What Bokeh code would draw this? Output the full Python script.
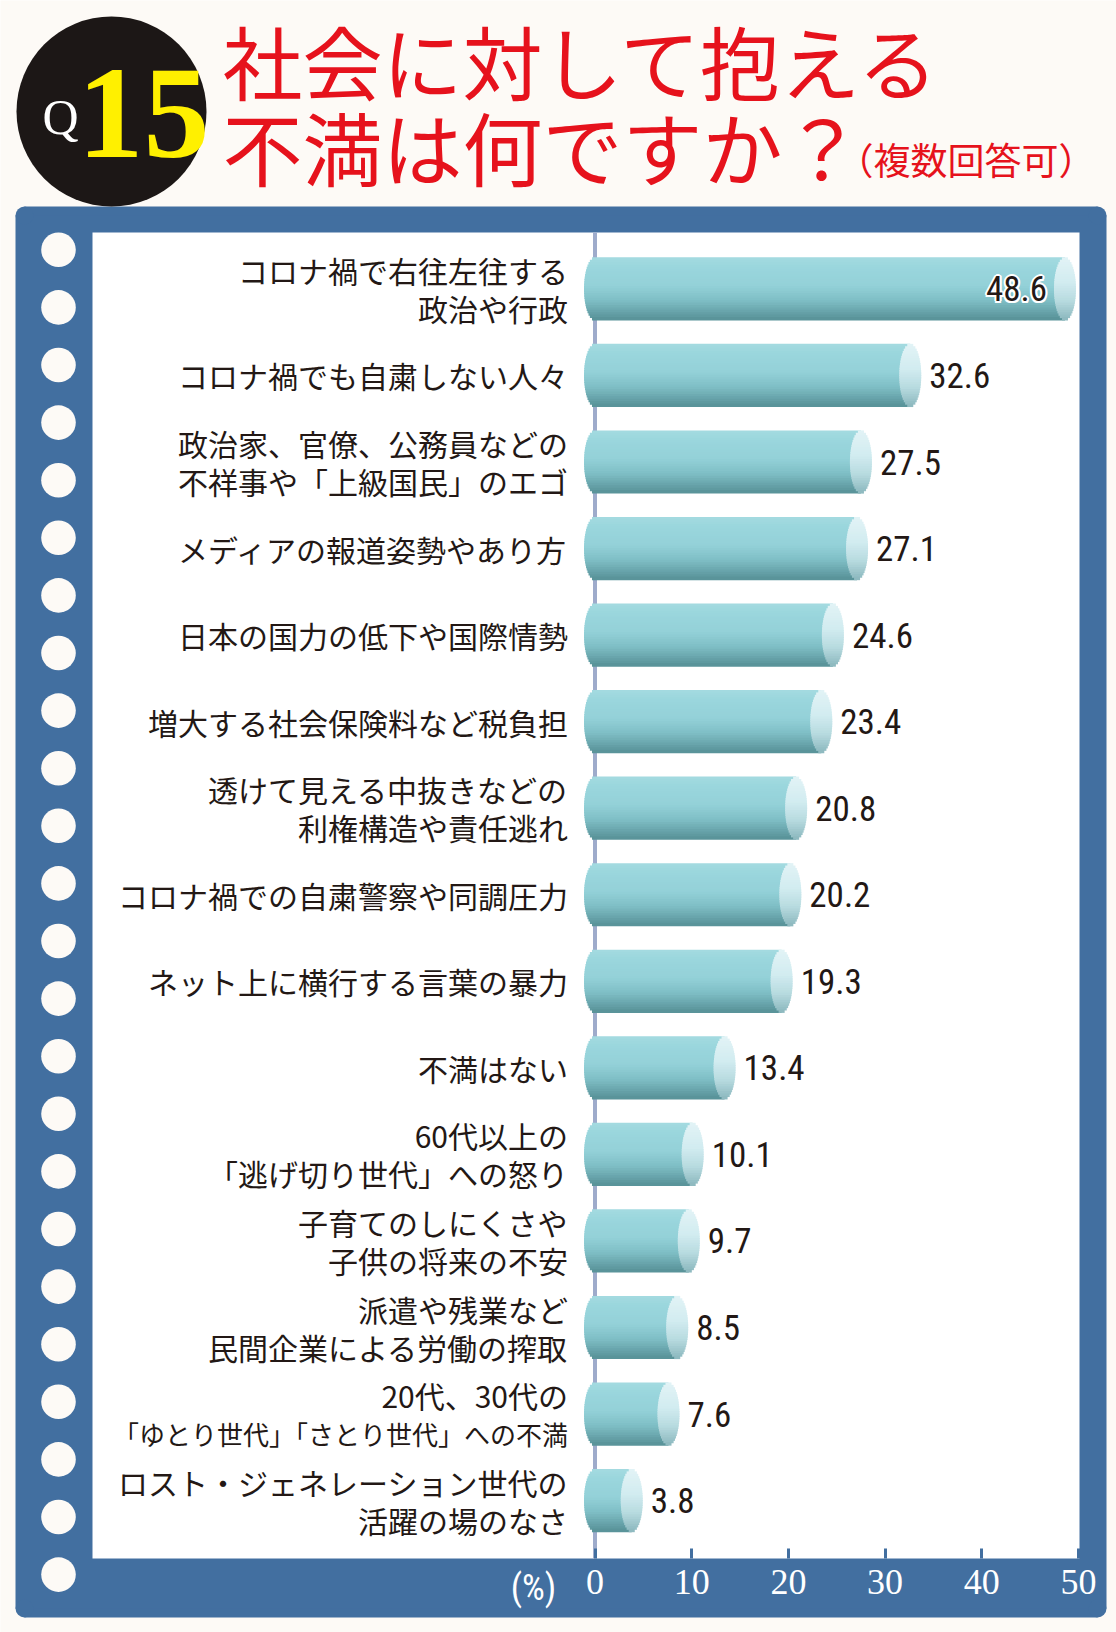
import math
from bokeh.plotting import figure
from bokeh.models import Range1d, FixedTicker, ColumnDataSource
from bokeh.core.properties import value
from bokeh.embed import file_html
from bokeh.resources import INLINE

# ---------------- data ----------------
categories = [
    "コロナ禍で右往左往する\n政治や行政",
    "コロナ禍でも自粛しない人々",
    "政治家、官僚、公務員などの\n不祥事や「上級国民」のエゴ",
    "メディアの報道姿勢やあり方",
    "日本の国力の低下や国際情勢",
    "増大する社会保険料など税負担",
    "透けて見える中抜きなどの\n利権構造や責任逃れ",
    "コロナ禍での自粛警察や同調圧力",
    "ネット上に横行する言葉の暴力",
    "不満はない",
    "60代以上の\n「逃げ切り世代」への怒り",
    "子育てのしにくさや\n子供の将来の不安",
    "派遣や残業など\n民間企業による労働の搾取",
    "20代、30代の\n「ゆとり世代」「さとり世代」への不満",
    "ロスト・ジェネレーション世代の\n活躍の場のなさ",
]
values = [48.6, 32.6, 27.5, 27.1, 24.6, 23.4, 20.8, 20.2, 19.3, 13.4, 10.1, 9.7, 8.5, 7.6, 3.8]
x_ticks = [0, 10, 20, 30, 40, 50]
title_lines = ["社会に対して抱える", "不満は何ですか？"]
title_note = "（複数回答可）"
question_prefix = "Q"
question_number = "15"
unit_label = "(%)"

# ---------------- layout / style ----------------
W, H = 1116, 1632
X0_PX = 594.5          # pixel position of value 0
PX_PER_UNIT = 9.67     # pixels per percentage point
ROW0_PX = 288.4        # pixel centre of first row
ROW_PX = 86.55         # pixels per row

BLUE = "#426fa0"
CREAM = "#fdfaf6"
RED = "#e6121c"
DARK = "#231815"
AXIS_LINE = "#9eabcb"
JP = value("Noto Sans CJK JP")
NARROW = value("'Liberation Sans Narrow', 'Arial Narrow', 'Roboto Condensed', 'Liberation Sans', sans-serif")
SERIF = value("Liberation Serif")

x_start = -X0_PX / PX_PER_UNIT
x_end = (W - X0_PX) / PX_PER_UNIT
y_top = -ROW0_PX / ROW_PX
y_bottom = (H - ROW0_PX) / ROW_PX

p = figure(width=W, height=H,
           x_range=Range1d(x_start, x_end), y_range=Range1d(y_bottom, y_top),
           output_backend="svg", toolbar_location=None,
           x_axis_location="below", y_axis_location=None,
           min_border=0)
p.extra_x_ranges = {"px": Range1d(0, W)}
p.extra_y_ranges = {"py": Range1d(H, 0)}
p.background_fill_color = CREAM
p.border_fill_color = CREAM
p.outline_line_color = None
p.xgrid.visible = False
p.ygrid.visible = False

PX = dict(x_range_name="px", y_range_name="py")

# ---------------- decorations ----------------
# blue board with rounded corners
r = 9
bl, br, bt, bb = 15, 1106, 206, 1617
p.quad(left=[bl + r], right=[br - r], top=[bt], bottom=[bb], fill_color=BLUE, line_color=None, **PX)
p.quad(left=[bl], right=[br], top=[bt + r], bottom=[bb - r], fill_color=BLUE, line_color=None, **PX)
p.circle(x=[bl + r, br - r, bl + r, br - r], y=[bt + r, bt + r, bb - r, bb - r], radius=r,
         fill_color=BLUE, line_color=None, **PX)
# white sheet
p.quad(left=[92], right=[1079], top=[232], bottom=[1558], fill_color="white", line_color=None, **PX)
# binder holes
p.circle(x=[58] * 24, y=[249.3 + 57.6 * k for k in range(24)], radius=17.3,
         fill_color=CREAM, line_color=None, **PX)

# question badge
p.circle(x=[111], y=[111], radius=95, fill_color="#1c1716", line_color=None, **PX)
p.text(x=[60], y=[116], text=[question_prefix], text_font=SERIF, text_font_size="50px",
       text_color="white", text_align="center", text_baseline="middle", **PX)
p.text(x=[143], y=[113], text=[question_number], text_font=SERIF, text_font_size="132px",
       text_font_style="bold", text_color="#fff000", text_align="center", text_baseline="middle", **PX)

# title
p.text(x=[222, 222], y=[58, 144], text=title_lines, text_font=JP, text_font_size="80px",
       text_color=RED, text_align="left", text_baseline="middle", **PX)
p.text(x=[836], y=[158], text=[title_note], text_font=JP, text_font_size="37px",
       text_color=RED, text_align="left", text_baseline="middle", **PX)

# vertical zero line
p.segment(x0=[0], x1=[0], y0=[232], y1=[1558], y_range_name="py",
          line_color=AXIS_LINE, line_width=4)

# ---------------- cylinder bars ----------------
n = len(values)
idx = list(range(n))
bar_h = 62 / ROW_PX
rx = 11 / PX_PER_UNIT
N = 26
seam = 1.2 / ROW_PX


def lerp_color(stops, t):
    for (t0, c0), (t1, c1) in zip(stops, stops[1:]):
        if t0 <= t <= t1:
            a = (t - t0) / (t1 - t0) if t1 > t0 else 0
            c = [round(c0[j] + (c1[j] - c0[j]) * a) for j in range(3)]
            return "#%02x%02x%02x" % tuple(c)
    c = stops[-1][1] if t > stops[-1][0] else stops[0][1]
    return "#%02x%02x%02x" % tuple(c)


body_stops = [(-0.5, (164, 219, 225)), (-0.35, (154, 214, 221)), (-0.05, (148, 209, 216)),
              (0.2, (126, 190, 197)), (0.5, (88, 145, 151))]
cap_stops = [(-0.5, (226, 243, 246)), (-0.1, (210, 236, 240)), (0.2, (184, 219, 224)),
             (0.5, (140, 184, 190))]

body = dict(y=[], left=[], right=[], color=[])
cap = dict(y=[], left=[], right=[], color=[])
for k in range(N):
    t = -0.5 + (k + 0.5) / N
    f = math.sqrt(max(0.0, 1 - (2 * t) ** 2))
    for i, v in zip(idx, values):
        body["y"].append(i + t * bar_h)
        body["left"].append(-rx * f)
        body["right"].append(v)
        body["color"].append(lerp_color(body_stops, t))
        cap["y"].append(i + t * bar_h)
        cap["left"].append(v - rx * f)
        cap["right"].append(v + rx * f)
        cap["color"].append(lerp_color(cap_stops, t))

p.hbar(y="y", left="left", right="right", height=bar_h / N + seam, fill_color="color",
       line_color=None, source=ColumnDataSource(body))
p.hbar(y="y", left="left", right="right", height=bar_h / N + seam, fill_color="color",
       line_color=None, source=ColumnDataSource(cap))

# category labels, one text per line (long lines set slightly smaller)
LINE_GAP = 38
lab = dict(x=[], y=[], text=[], size=[], dy=[])
for i, c in zip(idx, categories):
    parts = c.split("\n")
    m = len(parts)
    for j, s in enumerate(parts):
        lab["x"].append(0)
        lab["y"].append(i)
        lab["text"].append(s)
        lab["size"].append("26px" if len(s) > 16 else "30px")
        lab["dy"].append((j - (m - 1) / 2) * LINE_GAP)
p.text(x="x", y="y", text="text", source=ColumnDataSource(lab), x_offset=-27, y_offset="dy",
       text_font=JP, text_font_size="size", text_color=DARK,
       text_align="right", text_baseline="middle")

# value labels
inside = [v >= 45 for v in values]
out_src = ColumnDataSource(dict(x=[v for v, ins in zip(values, inside) if not ins],
                                y=[i for i, ins in zip(idx, inside) if not ins],
                                t=["%.1f" % v for v, ins in zip(values, inside) if not ins]))
in_src = ColumnDataSource(dict(x=[v for v, ins in zip(values, inside) if ins],
                               y=[i for i, ins in zip(idx, inside) if ins],
                               t=["%.1f" % v for v, ins in zip(values, inside) if ins]))
p.text(x="x", y="y", text="t", source=out_src, x_offset=19, text_font=NARROW,
       text_font_size="35px", text_color=DARK, text_align="left", text_baseline="middle")
# white halo for the label sitting inside the longest bar
for dx, dy in [(-2, 0), (2, 0), (0, -2), (0, 2), (-1.5, -1.5), (1.5, -1.5), (-1.5, 1.5), (1.5, 1.5)]:
    p.text(x="x", y="y", text="t", source=in_src, x_offset=-18 + dx, y_offset=dy, text_font=NARROW,
           text_font_size="35px", text_color="white", text_align="right", text_baseline="middle")
p.text(x="x", y="y", text="t", source=in_src, x_offset=-18, text_font=NARROW,
       text_font_size="35px", text_color=DARK, text_align="right", text_baseline="middle")

# ---------------- x axis ----------------
ax = p.xaxis[0]
ax.fixed_location = (1558 - ROW0_PX) / ROW_PX
ax.ticker = FixedTicker(ticks=x_ticks)
ax.axis_line_color = None
ax.major_tick_in = 10
ax.major_tick_out = 0
ax.major_tick_line_color = BLUE
ax.major_tick_line_width = 3
ax.minor_tick_line_color = None
ax.major_label_text_color = "white"
ax.major_label_text_font = "Liberation Sans Narrow"
ax.major_label_text_font_size = "36px"
ax.major_label_standoff = 11

p.text(x=[533], y=[1587], text=[unit_label], text_font=NARROW, text_font_size="36px",
       text_color="white", text_align="center", text_baseline="middle", **PX)

open("out.html", "w").write(file_html(p, INLINE))
